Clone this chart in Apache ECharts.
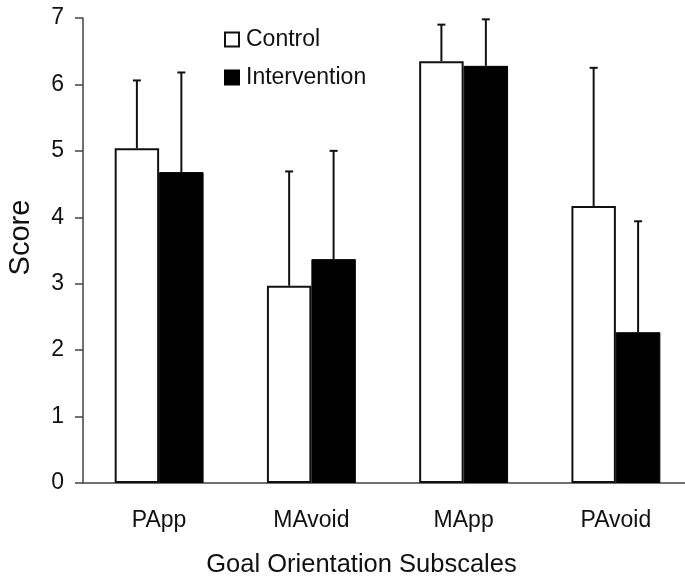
<!DOCTYPE html>
<html>
<head>
<meta charset="utf-8">
<script src="https://cdn.jsdelivr.net/npm/echarts@6/dist/echarts.min.js"></script>
<style>
html,body{margin:0;padding:0;background:#fff;}
#chart{width:685px;height:579px;}
</style>
</head>
<body>
<div id="chart"></div>
<script>
var categories = ['PApp', 'MAvoid', 'MApp', 'PAvoid'];
var controlMean = [5.04, 2.97, 6.35, 4.17];
var controlSD = [1.02, 1.72, 0.55, 2.08];
var interventionMean = [4.68, 3.37, 6.28, 2.27];
var interventionSD = [1.50, 1.63, 0.70, 1.67];
var yTicks = [0, 1, 2, 3, 4, 5, 6, 7];

var FONT = 'Liberation Sans, Arial, Helvetica, sans-serif';
var BAR_FRAC = 0.292;

function errData(means, sds) {
  return means.map(function (m, i) { return [i, m, m + sds[i]]; });
}
function errSeries(name, means, sds, sign) {
  return {
    type: 'custom',
    name: name + ' SD',
    data: errData(means, sds),
    z: 5,
    silent: true,
    renderItem: function (params, api) {
      var cat = api.value(0), mean = api.value(1), hi = api.value(2);
      var band = api.size([1, 0])[0];
      var off = band * BAR_FRAC / 2 * sign;
      var p0 = api.coord([cat, mean]);
      var p1 = api.coord([cat, hi]);
      var x = p0[0] + off;
      return {
        type: 'group',
        children: [
          { type: 'line', shape: { x1: x, y1: p0[1], x2: x, y2: p1[1] }, style: { stroke: '#111', lineWidth: 2 } },
          { type: 'line', shape: { x1: x - 4, y1: p1[1], x2: x + 4, y2: p1[1] }, style: { stroke: '#111', lineWidth: 2 } }
        ]
      };
    }
  };
}

var chart = echarts.init(document.getElementById('chart'), null, { renderer: 'canvas' });
chart.setOption({
  animation: false,
  backgroundColor: '#fff',
  textStyle: { fontFamily: FONT },
  legend: {
    data: ['Control', 'Intervention'],
    orient: 'vertical',
    left: 219,
    top: 23,
    itemWidth: 14,
    itemHeight: 14,
    itemGap: 15,
    icon: 'rect',
    textStyle: { fontFamily: FONT, fontSize: 23, color: '#111', padding: [0, 0, 0, 2] }
  },
  grid: { left: 83, top: 18, width: 609, height: 465, containLabel: false, outerBoundsMode: 'none' },
  xAxis: {
    type: 'category',
    data: categories,
    name: 'Goal Orientation Subscales',
    nameLocation: 'middle',
    nameGap: 69,
    nameTextStyle: { fontFamily: FONT, fontSize: 25.5, color: '#111', padding: [0, 52, 0, 0] },
    axisLine: { lineStyle: { color: '#444', width: 1.5 } },
    axisTick: { show: false },
    axisLabel: { fontFamily: FONT, fontSize: 23, color: '#111', margin: 26 },
    splitLine: { show: false }
  },
  yAxis: {
    type: 'value',
    min: yTicks[0],
    max: yTicks[yTicks.length - 1],
    interval: 1,
    name: 'Score',
    nameLocation: 'middle',
    nameGap: 48,
    nameTextStyle: { fontFamily: FONT, fontSize: 29, color: '#111', padding: [0, 0, 0, 26] },
    axisLine: { show: true, lineStyle: { color: '#444', width: 1.5 } },
    axisTick: { show: true, inside: false, length: 8, lineStyle: { color: '#444', width: 1.5 } },
    axisLabel: { fontFamily: FONT, fontSize: 23, color: '#111', margin: 19 },
    splitLine: { show: false }
  },
  series: [
    {
      type: 'bar',
      name: 'Control',
      data: controlMean,
      barWidth: (BAR_FRAC * 100) + '%',
      barGap: '0%',
      itemStyle: { color: '#fff', borderColor: '#111', borderWidth: 2 }
    },
    {
      type: 'bar',
      name: 'Intervention',
      data: interventionMean,
      barWidth: (BAR_FRAC * 100) + '%',
      barGap: '0%',
      itemStyle: { color: '#000', borderColor: '#000', borderWidth: 1 }
    },
    errSeries('Control', controlMean, controlSD, -1),
    errSeries('Intervention', interventionMean, interventionSD, 1)
  ]
});
</script>
</body>
</html>
